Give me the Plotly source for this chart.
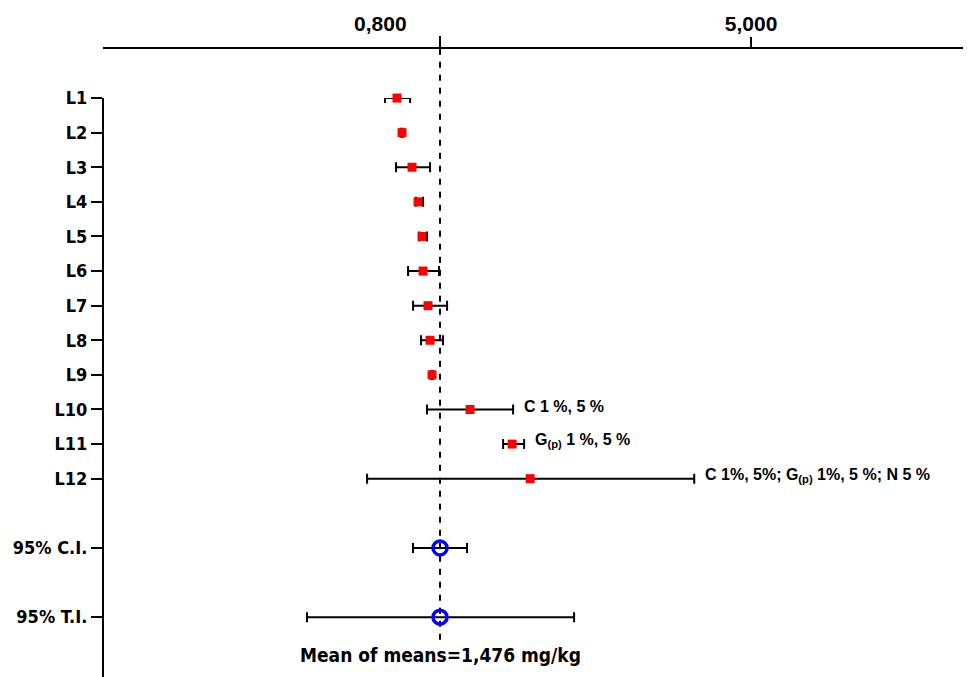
import plotly.graph_objects as go

# ---- data ----
labs = ["L1", "L2", "L3", "L4", "L5", "L6", "L7", "L8", "L9", "L10", "L11", "L12"]
means = [0.989, 1.046, 1.159, 1.227, 1.272, 1.284, 1.340, 1.363, 1.386, 1.816, 2.293, 2.497]
lows = [0.853, 1.036, 0.978, 1.204, 1.240, 1.114, 1.171, 1.261, 1.376, 1.329, 2.191, 0.650]
highs = [1.137, 1.056, 1.363, 1.284, 1.329, 1.465, 1.556, 1.510, 1.396, 2.304, 2.429, 4.356]

sum_labs = ["95% C.I.", "95% T.I."]
sum_means = [1.476, 1.476]
sum_lows = [1.170, -0.031]
sum_highs = [1.782, 2.995]

mean_of_means = 1.476
x_tickvals = [0.8, 5.0]
x_ticktext = ["0,800", "5,000"]

notes = {"L10": "C 1 %, 5 %",
         "L11": "G<sub>(p)</sub> 1 %, 5 %",
         "L12": "C 1%, 5%; G<sub>(p)</sub> 1%, 5 %; N 5 %"}

lab_pos = list(range(1, len(labs) + 1))
sum_pos = [len(labs) + 2, len(labs) + 4]

narrow = "DejaVu Sans Condensed, Liberation Sans Narrow, Arial Narrow, sans-serif"
arial = "Liberation Sans, Arial, sans-serif"

fig = go.Figure()

fig.add_trace(go.Scatter(
    x=means, y=lab_pos, mode="markers",
    marker=dict(symbol="square", size=9, color="#ff0000"),
    error_x=dict(type="data", symmetric=False,
                 array=[h - m for h, m in zip(highs, means)],
                 arrayminus=[m - l for m, l in zip(means, lows)],
                 color="black", thickness=2, width=5),
    cliponaxis=False, showlegend=False, hoverinfo="x+y"))

fig.add_trace(go.Scatter(
    x=sum_means, y=sum_pos, mode="markers",
    marker=dict(symbol="circle-open", size=14, color="#0000ff",
                line=dict(width=3.5, color="#0000ff")),
    error_x=dict(type="data", symmetric=False,
                 array=[h - m for h, m in zip(sum_highs, sum_means)],
                 arrayminus=[m - l for m, l in zip(sum_means, sum_lows)],
                 color="black", thickness=2, width=5),
    cliponaxis=False, showlegend=False))

# dashed mean line
fig.add_shape(type="line", xref="x", yref="paper",
              x0=mean_of_means, x1=mean_of_means, y0=0.055, y1=0.947,
              line=dict(color="black", width=2, dash="6px,7px"), layer="below")

annotations = []
for lab, txt in notes.items():
    i = labs.index(lab)
    annotations.append(dict(x=highs[i], y=lab_pos[i] - 0.1, xref="x", yref="y",
                            text="<b>" + txt + "</b>", showarrow=False,
                            xanchor="left", xshift=9,
                            font=dict(family=arial, size=16, color="black")))
annotations.append(dict(x=mean_of_means, y=17.1, xref="x", yref="y",
                        text="<b>Mean of means=1,476 mg/kg</b>", showarrow=False,
                        xanchor="center", yanchor="middle",
                        font=dict(family=narrow, size=19, color="black")))

fig.update_layout(
    width=967, height=677,
    margin=dict(l=103, r=4, t=0, b=0, autoexpand=False),
    paper_bgcolor="white", plot_bgcolor="white",
    annotations=annotations,
    xaxis=dict(range=[-2.342, 7.401], side="top", anchor="free", position=0.9291,
               automargin=False,
               showline=True, linecolor="black", linewidth=2,
               showgrid=False, zeroline=False,
               tickmode="array", tickvals=x_tickvals, ticktext=x_ticktext,
               ticks="", ticklabelstandoff=8,
               tickfont=dict(family=arial, size=21, color="black", weight="bold"),
               minor=dict(tickmode="array", tickvals=[mean_of_means, 5.0],
                          ticks="outside", ticklen=10, tickwidth=2, tickcolor="black")),
    yaxis=dict(range=[17.73, 1], domain=[0, 0.8552], anchor="free", position=0,
               automargin=False,
               showline=True, linecolor="black", linewidth=2,
               showgrid=False, zeroline=False,
               tickmode="array", tickvals=lab_pos + sum_pos, ticktext=labs + sum_labs,
               ticks="outside", ticklen=11, tickwidth=2, tickcolor="black",
               tickfont=dict(family=narrow, size=18, color="black", weight="bold")),
)

fig.write_html("out.html")
